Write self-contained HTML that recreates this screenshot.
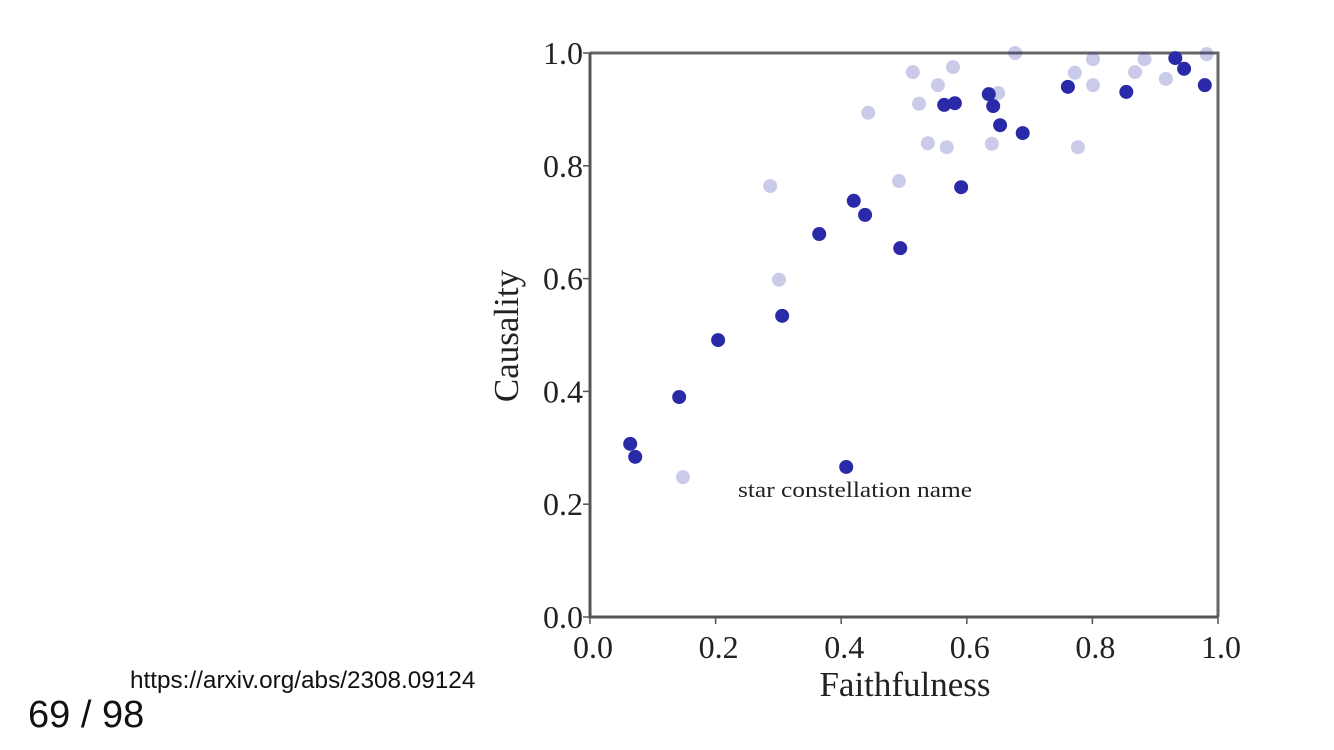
<!DOCTYPE html>
<html><head><meta charset="utf-8"><style>
body{margin:0;background:#fff;width:1334px;height:750px;overflow:hidden;position:relative;font-family:"Liberation Sans",sans-serif}
.t{position:absolute;color:#111;white-space:nowrap}
</style></head><body>
<svg id="chart" width="1334" height="750" style="position:absolute;left:0;top:0">
<g id="frame"></g><g id="pts"></g><g id="ticks"></g>
<text x="905" y="696" text-anchor="middle" font-family="Liberation Serif, serif" font-size="35" fill="#222">Faithfulness</text>
<text transform="translate(518,336) rotate(-90)" text-anchor="middle" font-family="Liberation Serif, serif" font-size="35" fill="#222">Causality</text>
<text x="738" y="497" font-family="Liberation Serif, serif" font-size="22" textLength="234" lengthAdjust="spacingAndGlyphs" fill="#222">star constellation name</text>
</svg>
<div class="t" style="left:130px;top:667px;font-size:24.3px">https://arxiv.org/abs/2308.09124</div>
<div class="t" style="left:28px;top:694px;font-size:38px">69 / 98</div>
<script>
const darkX=[0.064,0.072,0.142,0.204,0.306,0.365,0.420,0.438,0.494,0.408,0.564,0.581,0.591,0.635,0.642,0.653,0.689,0.761,0.854,0.932,0.946,0.979];
const darkY=[0.307,0.284,0.390,0.491,0.534,0.679,0.738,0.713,0.654,0.266,0.908,0.911,0.762,0.927,0.906,0.872,0.858,0.940,0.931,0.991,0.972,0.943];
const lightX=[0.148,0.287,0.301,0.443,0.492,0.514,0.524,0.538,0.554,0.568,0.578,0.650,0.640,0.677,0.772,0.777,0.801,0.801,0.868,0.883,0.917,0.982];
const lightY=[0.248,0.764,0.598,0.894,0.773,0.966,0.910,0.840,0.943,0.833,0.975,0.929,0.839,1.0,0.965,0.833,0.989,0.943,0.966,0.989,0.954,0.998];
const tickVals=[0,0.2,0.4,0.6,0.8,1.0];
const tickLabels=["0.0","0.2","0.4","0.6","0.8","1.0"];
const X0=590,X1=1218,Y0=617,Y1=53;
const sx=v=>X0+v*(X1-X0), sy=v=>Y0-v*(Y0-Y1);
const NS="http://www.w3.org/2000/svg";
function mk(tag,attrs,parent){const e=document.createElementNS(NS,tag);for(const k in attrs)e.setAttribute(k,attrs[k]);parent.appendChild(e);return e;}
const fr=document.getElementById('frame');
let l;
l=mk('line',{x1:X0,y1:Y1,x2:X1+1.5,y2:Y1,stroke:'#666','stroke-width':3},fr);

l=mk('line',{x1:X1,y1:Y1,x2:X1,y2:Y0,stroke:'#666','stroke-width':3},fr);

l=mk('line',{x1:X0,y1:Y1,x2:X0,y2:Y0+1.5,stroke:'#555','stroke-width':3},fr);

l=mk('line',{x1:X0-1.5,y1:Y0,x2:X1,y2:Y0,stroke:'#555','stroke-width':3},fr);

const tk=document.getElementById('ticks');
tickVals.forEach((v,i)=>{
 let a=mk('line',{x1:sx(v),y1:Y0,x2:sx(v),y2:Y0+7,stroke:'#555','stroke-width':1.5},tk);
 
 let t=mk('text',{x:sx(v)+3,y:Y0+41,'text-anchor':'middle','font-family':'Liberation Serif, serif','font-size':32,fill:'#222'},tk);
 t.textContent=tickLabels[i];
 
 a=mk('line',{x1:X0-7,y1:sy(v),x2:X0,y2:sy(v),stroke:'#555','stroke-width':1.5},tk);
 
 t=mk('text',{x:X0-7,y:sy(v)+11,'text-anchor':'end','font-family':'Liberation Serif, serif','font-size':32,fill:'#222'},tk);
 t.textContent=tickLabels[i];
 
});
const pg=document.getElementById('pts');
lightX.forEach((x,i)=>{
 const c=mk('circle',{cx:sx(x),cy:sy(lightY[i]),r:7,fill:'#2a2aa8','fill-opacity':0.25},pg);
 
});
darkX.forEach((x,i)=>{
 const c=mk('circle',{cx:sx(x),cy:sy(darkY[i]),r:7,fill:'#2a2aa8'},pg);
 
});
</script>
</body></html>
